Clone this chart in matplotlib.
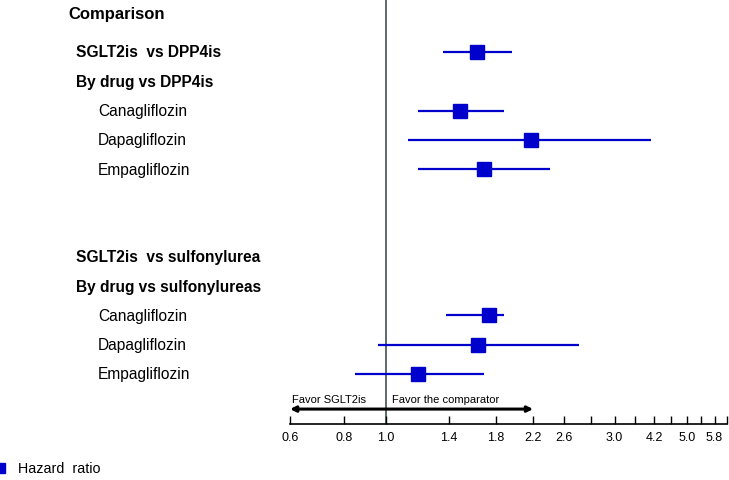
import matplotlib
matplotlib.use("Agg")
import matplotlib.pyplot as plt
from matplotlib.lines import Line2D
from matplotlib.transforms import blended_transform_factory

plt.rcParams['font.family'] = ['Liberation Sans', 'DejaVu Sans']

# rows (top to bottom) of the forest plot
labels = ['SGLT2is  vs DPP4is', 'By drug vs DPP4is', 'Canagliflozin', 'Dapagliflozin',
          'Empagliflozin', '', '', 'SGLT2is  vs sulfonylurea', 'By drug vs sulfonylureas',
          'Canagliflozin', 'Dapagliflozin', 'Empagliflozin']
bold = [True, True, False, False, False, False, False, True, True, False, False, False]
hr = [1.63, None, 1.49, 2.17, 1.69, None, None, None, None, 1.74, 1.64, 1.19]
lo = [1.36, None, 1.19, 1.13, 1.19, None, None, None, None, 1.38, 0.96, 0.85]
hi = [1.96, None, 1.88, 4.12, 2.41, None, None, None, None, 1.88, 2.81, 1.69]

ticks = [0.6, 0.8, 1.0, 1.4, 1.8, 2.2, 2.6, 3.0, 3.4, 3.8, 4.2, 4.6, 5.0, 5.4, 5.8, 6.2]
tick_labels = ['0.6', '0.8', '1.0', '1.4', '1.8', '2.2', '2.6', '', '3.0', '', '4.2', '',
               '5.0', '', '5.8', '']

W, H = 729, 481
fig = plt.figure(figsize=(W / 100, H / 100), dpi=100)
ax = fig.add_axes([290 / W, 56 / H, (727 - 290) / W, 425 / H])

blue = '#0000cc'
for i in range(len(labels)):
    row = i + 1
    if hr[i] is not None:
        ax.plot([lo[i], hi[i]], [row, row], color=blue, lw=1.6, solid_capstyle='butt')
        ax.plot(hr[i], row, marker='s', color=blue, ms=9.5, mec=blue)

ax.axvline(1.0, color='#4f5f5f', lw=1.3, zorder=0)

ax.set_xscale('log')
ax.set_xlim(0.6, 6.2)
ax.set_ylim(13.71, -0.81)
ax.set_xticks(ticks)
ax.set_xticklabels(tick_labels)
ax.xaxis.set_minor_locator(matplotlib.ticker.NullLocator())
ax.tick_params(axis='x', direction='in', length=6, width=1, labelsize=9, pad=5)
ax.set_yticks([])
for s in ['top', 'right', 'left']:
    ax.spines[s].set_visible(False)
ax.spines['bottom'].set_linewidth(1.2)

# left-hand labels
tr = blended_transform_factory(fig.transFigure, ax.transData)
ax.text(68 / W, -0.3, 'Comparison', transform=tr, fontsize=12, fontweight='bold',
        va='center', ha='left')
for i, lab in enumerate(labels):
    if lab == '':
        continue
    x = 76 / W if bold[i] else 98 / W
    ax.text(x, i + 1, lab, transform=tr, fontsize=11.2,
            fontweight='bold' if bold[i] else 'normal', va='center', ha='left')

# favour arrow
ax.annotate('', xy=(0.6, 13.2), xytext=(2.2, 13.2),
            arrowprops=dict(arrowstyle='<|-|>', color='black', lw=2.2,
                            mutation_scale=8, shrinkA=0, shrinkB=0))
ax.text(0.605, 12.85, 'Favor SGLT2is', fontsize=8, va='center', ha='left')
ax.text(1.033, 12.85, 'Favor the comparator', fontsize=8, va='center', ha='left')

# legend
fig.add_artist(Line2D([0 / W], [1 - 469 / H], transform=fig.transFigure, marker='s',
                      color=blue, ms=6.5, ls='none'))
fig.text(18 / W, 1 - 469 / H, 'Hazard  ratio', fontsize=10.3, va='center', ha='left')

fig.savefig('out.png', dpi=100)
